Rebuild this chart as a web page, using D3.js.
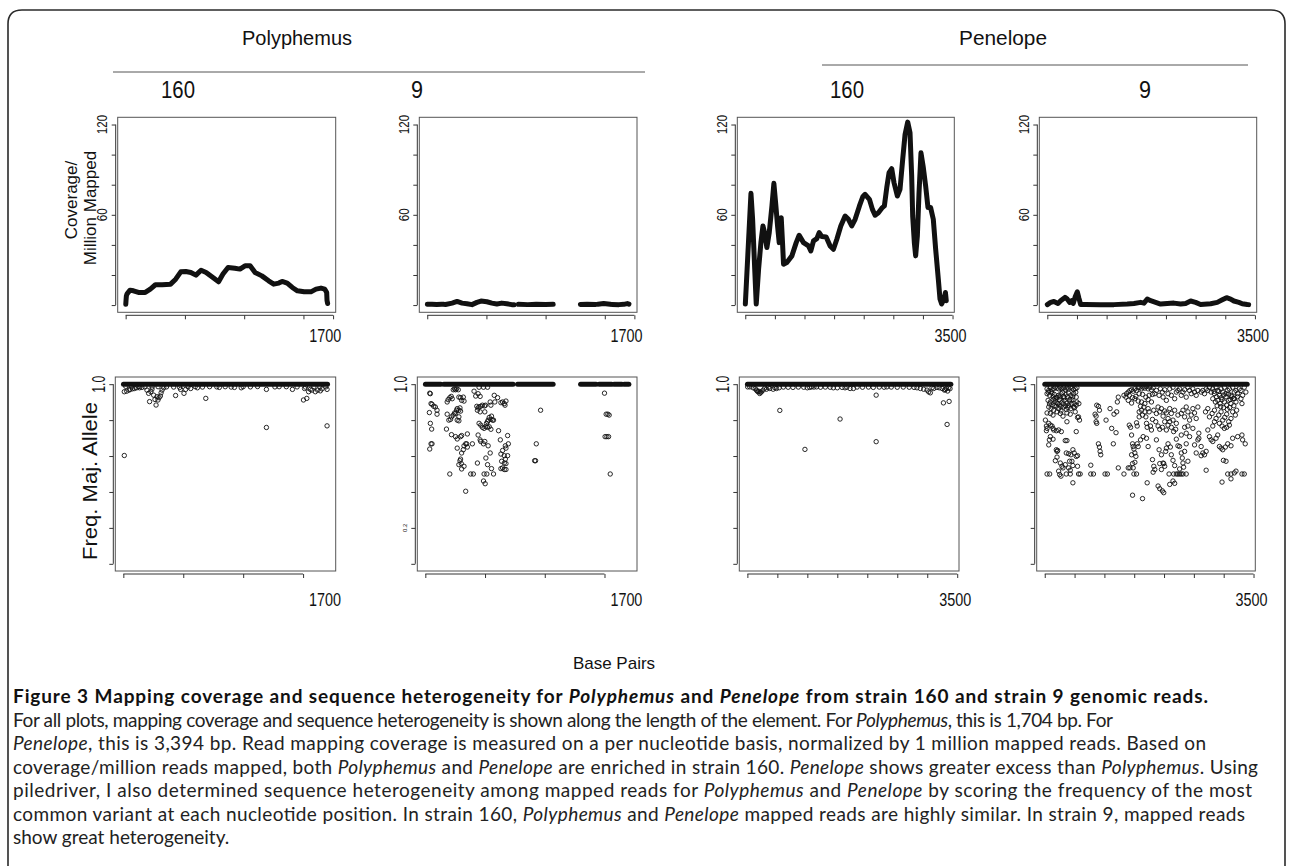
<!DOCTYPE html>
<html><head><meta charset="utf-8">
<script src="https://cdn.jsdelivr.net/npm/d3@7"></script>
<style>body{margin:0;background:#fff;} svg{display:block;}</style>
</head><body>
<svg id="fig" width="1293" height="866"></svg>
<script>
// ---------------- DATA ----------------
const elements = ["Polyphemus", "Penelope"];
const strains = ["160", "9"];
const elementLength = [1704, 3394];
const coverageTicks = [0, 20, 40, 60, 80, 100, 120];
const coverageTickLabels = [60, 120];
const freqTicks = [0, 0.2, 0.4, 0.6, 0.8, 1.0];
const freqTickLabelBig = [1.0];
const freqTickLabelSmall = [0.2];
const polyXTicksTop = [0, 500, 1000, 1500, 1750];
const polyXTicksBottom = [0, 500, 1000, 1500];
const penXTicks = [0, 500, 1000, 1500, 2000, 2500, 3000, 3500];
const xEndLabels = [1700, 3500];
const yTitleTop = ["Coverage/", "Million Mapped"];
const yTitleBottom = "Freq. Maj. Allele";
const xTitle = "Base Pairs";

// coverage per million mapped reads (position, value)
const covPoly160 = [[[1,0.5],[3,3],[6,6],[12,7.5],[37,9.9],[66,9.5],[108,8.4],[165,8.4],[208,10.6],[251,13.5],[308,13.5],[379,13.9],[422,17.2],[465,22.1],[508,22.3],[550,21.7],[593,19.9],[636,23.2],[679,21.7],[736,18.3],[784,15.5],[821,20.6],[864,25],[921,24.5],[964,23.9],[1007,26.1],[1050,26.1],[1092,21.7],[1149,19.4],[1206,16.1],[1249,13.9],[1292,14.6],[1320,15.7],[1363,14.6],[1406,11.7],[1449,9.5],[1506,8.8],[1563,8.8],[1606,10.6],[1648,11.3],[1680,10.6],[1696,8.4],[1699,3],[1704,1]]];
const covPoly9 = [
  [[1,0.6],[40,0.5],[80,0.4],[120,0.5],[140,0.5]],
  [[154,0.4],[210,1.3],[252,2.4],[294,1.3],[336,0.9],[378,0.3],[420,1.8],[454,2.7],[504,2.2],[546,1.3],[588,0.7],[630,1.3],[672,0.9],[714,0.3],[734,0.3]],
  [[770,0.5],[850,0.3],[920,0.5],[1000,0.4],[1064,0.5]],
  [[1294,0.4],[1350,0.5],[1422,0.4]],
  [[1442,0.6],[1490,1.0],[1546,0.5]],
  [[1563,0.4],[1620,0.3],[1660,0.5],[1690,1.0],[1704,0.6]]
];
const covPen160 = [[[1,0.7],[96,74.3],[124,57],[157,26.1],[185,0.7],[225,23.9],[264,41.5],[298,52.6],[326,48.2],[365,38.2],[405,48.2],[450,65.9],[483,80.9],[517,65.9],[545,52.6],[573,41.5],[607,58.1],[629,41.5],[646,27.2],[702,28.3],[787,32.7],[860,41.5],[910,46.4],[983,41.5],[1068,39.3],[1107,36],[1152,42.7],[1208,44.2],[1248,48.2],[1293,45.5],[1366,45.3],[1433,39.3],[1489,37.1],[1546,43.8],[1613,52.6],[1686,59.2],[1742,57],[1798,52.6],[1855,57],[1928,65.9],[1984,72],[2023,73.6],[2096,70.3],[2147,63.6],[2192,59.7],[2248,61.4],[2315,64.8],[2349,65.9],[2389,78],[2428,88],[2473,90.6],[2512,81.3],[2568,72.5],[2613,76.9],[2658,96.8],[2698,113.4],[2743,121.6],[2782,114.5],[2810,85.7],[2827,59.2],[2855,41.5],[2877,32.7],[2906,46],[2934,74.7],[2967,101.2],[3007,91.3],[3046,79.1],[3085,64.8],[3130,64.8],[3175,57],[3215,37.1],[3260,17.2],[3288,4],[3316,0.7],[3355,4],[3380,8.4],[3394,2.9]]];
const covPen9 = [[[1,0.3],[56,1.8],[112,2.4],[180,1.1],[225,2.9],[298,5.1],[337,4.0],[376,1.8],[410,2.9],[438,1.1],[472,5.7],[506,8.8],[534,4.4],[562,0.4],[646,0.4],[899,0.3],[1124,0.3],[1348,0.7],[1461,1.1],[1573,1.8],[1629,1.3],[1685,4.0],[1742,2.9],[1826,1.8],[1910,0.7],[2022,1.1],[2135,1.3],[2247,0.7],[2331,1.1],[2416,2.7],[2500,1.8],[2584,0.4],[2753,0.9],[2865,1.8],[2950,3.5],[3022,4.9],[3090,4.0],[3146,2.7],[3230,1.8],[3286,0.9],[3371,0.4],[3394,0.3]]];

// stretches where major allele frequency is 1.0 (start, end)
const bandPoly160 = [[1, 1704]];
const bandPoly9 = [[1,130],[155,735],[772,1070],[1300,1430],[1455,1560],[1580,1645],[1665,1704]];
const bandPen160 = [[1, 3394]];
const bandPen9 = [[1, 3394]];

// frequency of the major allele below 1.0 (position, frequency)
const frqPoly160 = [[8,0.958],[28,0.961],[48,0.967],[56,0.971],[76,0.974],[93,0.976],[112,0.98],[135,0.98],[155,0.982],[197,0.967],[211,0.949],[219,0.903],[230,0.958],[239,0.972],[253,0.939],[264,0.915],[273,0.884],[281,0.93],[289,0.912],[298,0.925],[309,0.934],[315,0.952],[323,0.967],[337,0.98],[436,0.937],[478,0.971],[506,0.949],[520,0.971],[562,0.976],[618,0.98],[688,0.921],[801,0.982],[927,0.982],[984,0.98],[1194,0.971],[1194,0.759],[1265,0.985],[1411,0.971],[1503,0.912],[1512,0.976],[1531,0.921],[1546,0.958],[1560,0.971],[1574,0.967],[1602,0.958],[1621,0.967],[1644,0.963],[1658,0.974],[1700,0.971],[1700,0.768],[8,0.603],
  [20,0.988],[70,0.985],[130,0.987],[180,0.985],[240,0.984],[290,0.986],[360,0.985],[420,0.984],[470,0.982],[540,0.985],[600,0.986],[660,0.984],[720,0.986],[780,0.985],[850,0.986],[900,0.984],[1000,0.986],[1060,0.985],[1120,0.987],[1300,0.986],[1360,0.986],[1450,0.985],[1520,0.984],[1590,0.985],[1640,0.984],[1690,0.985]];
const frqPoly9 = [[37,0.95],[42,0.947],[48,0.892],[56,0.888],[70,0.877],[84,0.873],[98,0.855],[98,0.833],[34,0.842],[42,0.782],[53,0.75],[48,0.668],[56,0.668],[37,0.639],[183,0.901],[191,0.914],[205,0.925],[217,0.932],[225,0.919],[234,0.969],[245,0.974],[253,0.969],[262,0.974],[276,0.969],[281,0.928],[295,0.925],[304,0.91],[318,0.928],[324,0.906],[183,0.833],[197,0.8],[211,0.804],[219,0.818],[234,0.828],[245,0.84],[253,0.837],[262,0.855],[267,0.864],[281,0.855],[290,0.868],[295,0.85],[281,0.818],[281,0.796],[267,0.8],[177,0.75],[219,0.719],[253,0.708],[267,0.695],[295,0.708],[304,0.714],[352,0.723],[324,0.657],[338,0.668],[318,0.635],[304,0.617],[295,0.583],[290,0.574],[301,0.558],[281,0.552],[304,0.528],[324,0.543],[267,0.644],[205,0.5],[338,0.404],[352,0.65],[408,0.961],[422,0.934],[442,0.947],[459,0.932],[450,0.983],[487,0.983],[521,0.983],[431,0.877],[442,0.868],[450,0.873],[464,0.877],[478,0.883],[495,0.879],[504,0.883],[436,0.855],[459,0.846],[498,0.846],[450,0.782],[464,0.772],[478,0.76],[492,0.754],[507,0.763],[521,0.76],[535,0.763],[549,0.749],[512,0.782],[526,0.8],[549,0.804],[563,0.8],[535,0.815],[521,0.791],[442,0.717],[459,0.69],[464,0.681],[498,0.681],[487,0.668],[526,0.657],[543,0.617],[507,0.589],[521,0.552],[436,0.561],[554,0.53],[492,0.5],[515,0.5],[571,0.5],[487,0.461],[501,0.446],[394,0.668],[380,0.5],[402,0.5],[346,0.668],[577,0.938],[605,0.925],[633,0.897],[647,0.901],[661,0.892],[675,0.906],[667,0.883],[549,0.883],[582,0.901],[543,0.901],[554,0.822],[571,0.8],[613,0.741],[628,0.69],[689,0.714],[670,0.657],[675,0.644],[695,0.668],[647,0.631],[633,0.611],[661,0.602],[689,0.602],[670,0.583],[639,0.571],[661,0.561],[675,0.558],[647,0.534],[661,0.525],[633,0.53],[675,0.525],[965,0.855],[929,0.668],[915,0.574],[923,0.574],[1500,0.95],[1514,0.833],[1528,0.833],[1539,0.828],[1505,0.708],[1520,0.708],[1534,0.708],[1548,0.5]];
const frqPen160 = [[5,0.985],[95,0.98],[151,0.967],[179,0.957],[206,0.948],[234,0.957],[262,0.967],[318,0.972],[374,0.976],[430,0.972],[485,0.976],[530,0.98],[541,0.854],[960,0.637],[999,0.98],[1071,0.985],[1155,0.985],[1434,0.98],[1546,0.806],[1629,0.98],[1713,0.976],[1769,0.976],[2148,0.939],[2148,0.68],[2327,0.985],[2829,0.98],[2885,0.976],[2996,0.967],[3024,0.957],[3052,0.952],[3108,0.976],[3248,0.976],[3287,0.967],[3320,0.976],[3359,0.98],[3270,0.896],[3365,0.904],[3331,0.776],
  [40,0.985],[130,0.975],[165,0.962],[195,0.96],[220,0.955],[290,0.978],[350,0.982],[460,0.98],[600,0.984],[680,0.983],[760,0.982],[850,0.984],[940,0.983],[1040,0.982],[1110,0.984],[1220,0.983],[1300,0.984],[1380,0.983],[1500,0.98],[1580,0.982],[1660,0.983],[1830,0.984],[1920,0.983],[2020,0.984],[2100,0.982],[2200,0.984],[2280,0.983],[2400,0.984],[2500,0.983],[2600,0.984],[2700,0.983],[2780,0.982],[2940,0.972],[3080,0.98],[3160,0.982],[3200,0.98],[3300,0.97],[3340,0.962],[3380,0.975]];
const frqPen9 = [[39,0.974],[67,0.965],[94,0.98],[122,0.969],[150,0.974],[178,0.983],[206,0.978],[233,0.974],[261,0.983],[289,0.974],[317,0.98],[344,0.969],[372,0.978],[400,0.974],[428,0.983],[456,0.978],[483,0.969],[511,0.974],[539,0.98],
  [39,0.947],[83,0.938],[122,0.95],[161,0.943],[194,0.928],[233,0.938],[272,0.947],[317,0.932],[356,0.943],[400,0.95],[439,0.938],[483,0.947],[528,0.928],
  [56,0.91],[94,0.901],[139,0.914],[178,0.906],[217,0.892],[250,0.914],[289,0.901],[328,0.91],[372,0.895],[417,0.906],[456,0.914],[494,0.892],[539,0.901],
  [67,0.873],[106,0.864],[150,0.855],[194,0.877],[233,0.864],[272,0.851],[317,0.873],[361,0.859],[400,0.883],[439,0.864],[483,0.873],[528,0.883],[572,0.892],
  [39,0.84],[94,0.837],[139,0.828],[206,0.846],[261,0.837],[306,0.822],[372,0.84],[428,0.833],[511,0.846],[567,0.818],[583,0.8],[550,0.815],
  [11,0.8],[28,0.767],[39,0.754],[28,0.741],[94,0.772],[122,0.767],[139,0.754],[150,0.745],[67,0.782],[194,0.741],[233,0.745],[278,0.736],[372,0.791],[528,0.736],
  [94,0.708],[78,0.69],[67,0.662],[139,0.694],[194,0.635],[206,0.626],[217,0.631],[344,0.686],[372,0.686],[361,0.617],[400,0.613],[439,0.607],[472,0.635],[494,0.617],[528,0.598],[550,0.602],[417,0.571],[456,0.571],[206,0.594],[178,0.574],[261,0.561],[289,0.543],[344,0.552],[400,0.534],[472,0.547],[233,0.516],[306,0.534],[428,0.521],[550,0.543],[250,0.497],[272,0.488],[472,0.451],
  [39,0.5],[83,0.5],[361,0.5],[428,0.5],[567,0.5],[594,0.5],
  [772,0.549],[772,0.5],[817,0.5],[844,0.833],[861,0.822],[872,0.883],[900,0.877],[861,0.791],[917,0.855],[872,0.782],[900,0.668],[917,0.65],[928,0.626],[939,0.607],[1028,0.8],[1095,0.864],[1122,0.754],[1150,0.668],[1161,0.833],[1195,0.73],[1206,0.846],[1217,0.901],[1233,0.928],[1233,0.534],[1011,0.5],[1050,0.5],[1328,0.5],[1400,0.534],[1428,0.534],
  [1328,0.938],[1372,0.947],[1400,0.956],[1428,0.965],[1456,0.969],[1483,0.961],[1511,0.974],[1539,0.965],[1567,0.98],[1595,0.983],[1622,0.974],[1650,0.983],[1678,0.978],[1706,0.987],[1733,0.974],[1761,0.983],[1789,0.969],[1817,0.98],
  [1361,0.928],[1417,0.938],[1472,0.925],[1528,0.932],[1583,0.947],[1639,0.943],[1695,0.928],[1750,0.938],[1806,0.943],
  [1400,0.91],[1456,0.895],[1511,0.919],[1567,0.906],[1622,0.901],[1678,0.892],[1733,0.914],[1789,0.901],
  [1417,0.772],[1439,0.76],[1456,0.717],[1472,0.668],[1483,0.653],[1495,0.639],[1511,0.617],[1528,0.598],[1456,0.607],[1472,0.558],[1511,0.565],[1550,0.668],[1567,0.653],[1583,0.846],[1606,0.877],[1622,0.855],[1639,0.828],[1661,0.873],[1678,0.846],[1695,0.818],[1706,0.782],[1717,0.76],[1733,0.864],[1750,0.846],[1772,0.767],[1789,0.745],[1806,0.804],[1706,0.699],[1733,0.653],[1650,0.708],[1606,0.69],[1583,0.818],[1539,0.785],[1550,0.767],
  [1483,0.534],[1495,0.5],[1539,0.5],[1472,0.382],[1639,0.363],[1717,0.451],[1806,0.58],[1828,0.543],[1845,0.525],[1817,0.51],
  [1845,0.947],[1872,0.965],[1917,0.938],[1939,0.974],[1972,0.956],[1984,0.928],[2011,0.969],[2039,0.91],[2067,0.947],[2095,0.974],[2122,0.938],[2150,0.983],[2178,0.919],[2206,0.956],[2233,0.965],[2261,0.974],[2289,0.938],[2317,0.956],[2345,0.969],[2372,0.928],[2400,0.983],[2428,0.965],[2456,0.947],[2483,0.974],[2511,0.956],[2539,0.938],[2567,0.965],
  [1828,0.855],[1872,0.837],[1900,0.873],[1928,0.846],[1956,0.864],[1984,0.822],[2011,0.851],[2039,0.84],[2067,0.809],[2095,0.864],[2122,0.837],[2150,0.8],[2178,0.855],[2206,0.782],[2233,0.828],[2289,0.837],[2317,0.855],[2345,0.818],[2372,0.873],[2400,0.846],[2428,0.8],[2456,0.828],[2483,0.864],[2511,0.84],[2539,0.809],[2567,0.873],
  [1861,0.791],[1900,0.767],[1928,0.749],[1972,0.76],[2011,0.791],[2039,0.745],[2067,0.772],[2095,0.791],[2122,0.76],[2161,0.736],[2195,0.749],[2289,0.717],[2345,0.76],[2372,0.727],[2400,0.767],[2428,0.708],[2483,0.754],[2583,0.727],
  [1872,0.69],[1917,0.635],[1956,0.607],[1984,0.561],[2011,0.543],[1928,0.558],[1956,0.525],[1995,0.558],[2028,0.626],[2039,0.644],[2067,0.668],[2106,0.65],[2122,0.607],[2150,0.576],[2178,0.547],[2206,0.694],[2233,0.657],[2261,0.653],[2289,0.617],[2306,0.589],[2317,0.561],[2328,0.538],[2345,0.626],[2372,0.668],[2261,0.528],[2400,0.571],[2150,0.461],[2178,0.448],[2084,0.5],[2161,0.5],[2206,0.5],[2233,0.5],[2261,0.5],[2289,0.5],[2317,0.5],[2372,0.5],[1900,0.433],[1928,0.418],[1972,0.406],[1995,0.396],[2095,0.442],[2511,0.662],[2539,0.617],[2567,0.69],[2583,0.699],
  [2622,0.956],[2650,0.965],[2678,0.947],[2706,0.974],[2734,0.965],[2761,0.983],[2789,0.956],[2817,0.974],[2845,0.947],[2872,0.983],[2900,0.965],[2928,0.938],[2956,0.974],[2984,0.956],[3011,0.983],[3039,0.947],[3067,0.965],[3095,0.974],[3122,0.938],[3150,0.983],[3178,0.956],[3206,0.965],[3234,0.947],[3261,0.974],[3289,0.965],[3317,0.938],[3345,0.983],[3372,0.956],
  [2817,0.919],[2861,0.901],[2900,0.91],[2939,0.892],[2972,0.914],[3011,0.901],[3050,0.883],[3084,0.91],[3122,0.892],[3161,0.919],[3206,0.901],[3289,0.919],[3306,0.892],
  [2695,0.846],[2734,0.864],[2761,0.818],[2806,0.837],[2845,0.855],[2872,0.809],[2917,0.828],[2956,0.846],[2984,0.8],[3017,0.815],[3050,0.833],[3084,0.791],[3122,0.809],[3150,0.846],[3195,0.828],[3217,0.855],[3095,0.772],[3050,0.76],[3011,0.754],[2972,0.767],[2928,0.782],[2845,0.791],[2817,0.767],
  [2622,0.653],[2650,0.617],[2678,0.607],[2622,0.602],[2706,0.626],[2734,0.745],[2761,0.708],[2789,0.69],[2817,0.681],[2872,0.699],[2900,0.717],[2928,0.653],[2956,0.644],[2984,0.635],[3028,0.65],[3067,0.668],[3122,0.657],[3150,0.699],[3234,0.708],[3306,0.717],[3317,0.69],[3361,0.668],[2706,0.521],[2995,0.576],[3039,0.571],[2972,0.455],[3122,0.473],[3178,0.506],[3206,0.516],[3067,0.5],[3122,0.5],[3306,0.5],[3345,0.5],
  [60,0.955],[110,0.958],[140,0.93],[170,0.92],[210,0.925],[250,0.93],[300,0.955],[330,0.925],[380,0.93],[420,0.915],[470,0.93],[520,0.955],
  [80,0.89],[120,0.885],[160,0.88],[205,0.895],[240,0.885],[270,0.875],[310,0.89],[350,0.88],[390,0.87],[450,0.89],[500,0.87],
  [2840,0.96],[2880,0.93],[2920,0.96],[2960,0.925],[3000,0.94],[3040,0.93],[3080,0.945],[3110,0.915],[3140,0.93],[3180,0.92],[3230,0.93],[2890,0.88],[2950,0.875],[3000,0.87],[3060,0.86],[3100,0.87],[3170,0.88]];

const captionLines = [
  [["b","Figure 3 Mapping coverage and sequence heterogeneity for "],["bi","Polyphemus"],["b"," and "],["bi","Penelope"],["b"," from strain 160 and strain 9 genomic reads."]],
  [["r","For all plots, mapping coverage and sequence heterogeneity is shown along the length of the element. For "],["i","Polyphemus"],["r",", this is 1,704 bp. For"]],
  [["i","Penelope"],["r",", this is 3,394 bp. Read mapping coverage is measured on a per nucleotide basis, normalized by 1 million mapped reads. Based on"]],
  [["r","coverage/million reads mapped, both "],["i","Polyphemus"],["r"," and "],["i","Penelope"],["r"," are enriched in strain 160. "],["i","Penelope"],["r"," shows greater excess than "],["i","Polyphemus"],["r",". Using"]],
  [["r","piledriver, I also determined sequence heterogeneity among mapped reads for "],["i","Polyphemus"],["r"," and "],["i","Penelope"],["r"," by scoring the frequency of the most"]],
  [["r","common variant at each nucleotide position. In strain 160, "],["i","Polyphemus"],["r"," and "],["i","Penelope"],["r"," mapped reads are highly similar. In strain 9, mapped reads"]],
  [["r","show great heterogeneity."]]
];

// ---------------- LAYOUT ----------------
const svg = d3.select("#fig");
const FONT = "'Liberation Sans', Arial, sans-serif";
const CAPFONT = "Lato, 'Open Sans', sans-serif";

svg.append("path")
  .attr("d", "M8,900 L8,24 Q8,10 22,10 L1271,10 Q1285,10 1285,24 L1285,900")
  .attr("fill", "none").attr("stroke", "#2a2a2a").attr("stroke-width", 1.6);

const topBoxes = [{l:117.7,r:335.7},{l:419.3,r:637},{l:737.3,r:954.3},{l:1039.3,r:1256.7}];
const botBoxes = [{l:115.3,r:335.7},{l:417.3,r:637},{l:739.3,r:959},{l:1036.7,r:1255.3}];
const topRow = {t:117.3, b:312.3};
const botRow = {t:377, b:571};

const covData = [covPoly160, covPoly9, covPen160, covPen9];
const bandData = [bandPoly160, bandPoly9, bandPen160, bandPen9];
const frqData = [frqPoly160, frqPoly9, frqPen160, frqPen9];

function xScaleFor(ei, box) {
  const L = elementLength[ei], pad = 0.04 * (L - 1);
  return d3.scaleLinear().domain([1 - pad, L + pad]).range([box.l, box.r]);
}

function drawAxes(g, x, y, box, row, xTicks, yTicks) {
  g.append("rect").attr("x", box.l).attr("y", row.t).attr("width", box.r - box.l).attr("height", row.b - row.t)
    .attr("fill", "none").attr("stroke", "#555").attr("stroke-width", 1);
  const ya = g.append("g").attr("transform", `translate(${box.l - 2},0)`)
    .call(d3.axisLeft(y).tickValues(yTicks).tickSize(4).tickFormat(""));
  ya.select(".domain").remove();
  ya.selectAll("line").attr("stroke", "#333");
  g.append("line").attr("x1", box.l - 2).attr("x2", box.l - 2)
    .attr("y1", y(d3.min(yTicks))).attr("y2", y(d3.max(yTicks))).attr("stroke", "#333");
  const xa = g.append("g").attr("transform", `translate(0,${row.b + 3})`)
    .call(d3.axisBottom(x).tickValues(xTicks).tickSize(4).tickFormat(""));
  xa.select(".domain").remove();
  xa.selectAll("line").attr("stroke", "#333");
  g.append("line").attr("y1", row.b + 3).attr("y2", row.b + 3)
    .attr("x1", x(d3.min(xTicks))).attr("x2", x(d3.max(xTicks))).attr("stroke", "#333");
}

function rotLabel(g, cx, cy, txt, size, len) {
  const t = g.append("text").attr("transform", `translate(${cx},${cy}) rotate(-90)`)
    .attr("text-anchor", "middle").attr("dominant-baseline", "central")
    .attr("font-family", FONT).attr("font-size", size).attr("fill", "#111").text(txt);
  if (len) t.attr("textLength", len).attr("lengthAdjust", "spacingAndGlyphs");
}

function plainText(g, x, y, txt, size, len) {
  const t = g.append("text").attr("x", x).attr("y", y)
    .attr("text-anchor", "middle").attr("font-family", FONT).attr("font-size", size).attr("fill", "#111")
    .text(txt);
  if (len) t.attr("textLength", len).attr("lengthAdjust", "spacingAndGlyphs");
}

for (let p = 0; p < 4; p++) {
  const ei = p < 2 ? 0 : 1;
  // ---- top: coverage ----
  const tb = topBoxes[p];
  const xt = xScaleFor(ei, tb);
  const yt = d3.scaleLinear().domain([-4.8, 124.8]).range([topRow.b, topRow.t]);
  const gt = svg.append("g");
  drawAxes(gt, xt, yt, tb, topRow, ei === 0 ? polyXTicksTop : penXTicks, coverageTicks);
  const line = d3.line().x(d => xt(d[0])).y(d => yt(d[1])).curve(d3.curveLinear);
  gt.selectAll("path.cov").data(covData[p]).join("path").attr("class", "cov")
    .attr("d", line).attr("fill", "none").attr("stroke", "#111").attr("stroke-width", 5)
    .attr("stroke-linejoin", "round").attr("stroke-linecap", "round");
  coverageTickLabels.forEach(v => rotLabel(gt, tb.l - 16, yt(v), String(v), 15.5, v >= 100 ? 19 : 13));
  plainText(gt, xt(xEndLabels[ei]) - 2, topRow.b + 30, String(xEndLabels[ei]), 18, 32);

  // ---- bottom: frequency ----
  const bb = botBoxes[p];
  const xb = xScaleFor(ei, bb);
  const yb = d3.scaleLinear().domain([-0.04, 1.04]).range([botRow.b, botRow.t]);
  const gb = svg.append("g");
  drawAxes(gb, xb, yb, bb, botRow, ei === 0 ? polyXTicksBottom : penXTicks, freqTicks);
  gb.selectAll("line.band").data(bandData[p]).join("line").attr("class", "band")
    .attr("x1", d => xb(d[0])).attr("x2", d => xb(d[1]))
    .attr("y1", yb(1)).attr("y2", yb(1)).attr("stroke", "#111").attr("stroke-width", 5)
    .attr("stroke-linecap", "round");
  gb.selectAll("circle.pt").data(frqData[p]).join("circle").attr("class", "pt")
    .attr("cx", d => xb(d[0])).attr("cy", d => yb(d[1])).attr("r", 2.2)
    .attr("fill", "none").attr("stroke", "#111").attr("stroke-width", 0.9);
  freqTickLabelBig.forEach(v => rotLabel(gb, bb.l - 17, yb(v), v.toFixed(1), 19, 17));
  if (p === 1) freqTickLabelSmall.forEach(v => rotLabel(gb, bb.l - 12, yb(v), v.toFixed(1), 6));
  plainText(gb, xb(xEndLabels[ei]) - 2, botRow.b + 35, String(xEndLabels[ei]), 18, 32);
}

// headers
const headerX = [297, 1003];
const headerLen = [110, 88];
const headerLine = [{x1:113, x2:645, y:72}, {x1:822, x2:1248, y:65}];
elements.forEach((e, i) => {
  plainText(svg, headerX[i], 45, e, 21, headerLen[i]);
  svg.append("line").attr("x1", headerLine[i].x1).attr("x2", headerLine[i].x2)
    .attr("y1", headerLine[i].y).attr("y2", headerLine[i].y).attr("stroke", "#555").attr("stroke-width", 1);
});
const strainX = [178, 417, 847, 1145];
const strainLen = [34, 12];
strainX.forEach((sx, i) => plainText(svg, sx, 98, strains[i % 2], 23, strainLen[i % 2]));

// axis titles
rotLabel(svg, 71, 200, yTitleTop[0], 17);
rotLabel(svg, 90, 208, yTitleTop[1], 17);
rotLabel(svg, 90, 481, yTitleBottom, 19.5, 158);
plainText(svg, 614, 669, xTitle, 17);

// caption
const capBase = [703, 727, 750, 774, 797, 821, 844];
const capWidth = [1195, 1100, 1193, 1245, 1239, 1232, 0];
captionLines.forEach((segs, i) => {
  const t = svg.append("text").attr("x", 13).attr("y", capBase[i])
    .attr("font-family", CAPFONT).attr("font-size", 19).attr("fill", "#222");
  if (capWidth[i]) t.attr("textLength", capWidth[i]).attr("lengthAdjust", "spacing");
  segs.forEach(([st, s]) => {
    t.append("tspan")
      .attr("font-weight", st.includes("b") ? "bold" : "normal")
      .attr("font-style", st.includes("i") ? "italic" : "normal")
      .attr("fill", st.includes("b") ? "#111" : "#222")
      .text(s);
  });
});
</script>
</body></html>
